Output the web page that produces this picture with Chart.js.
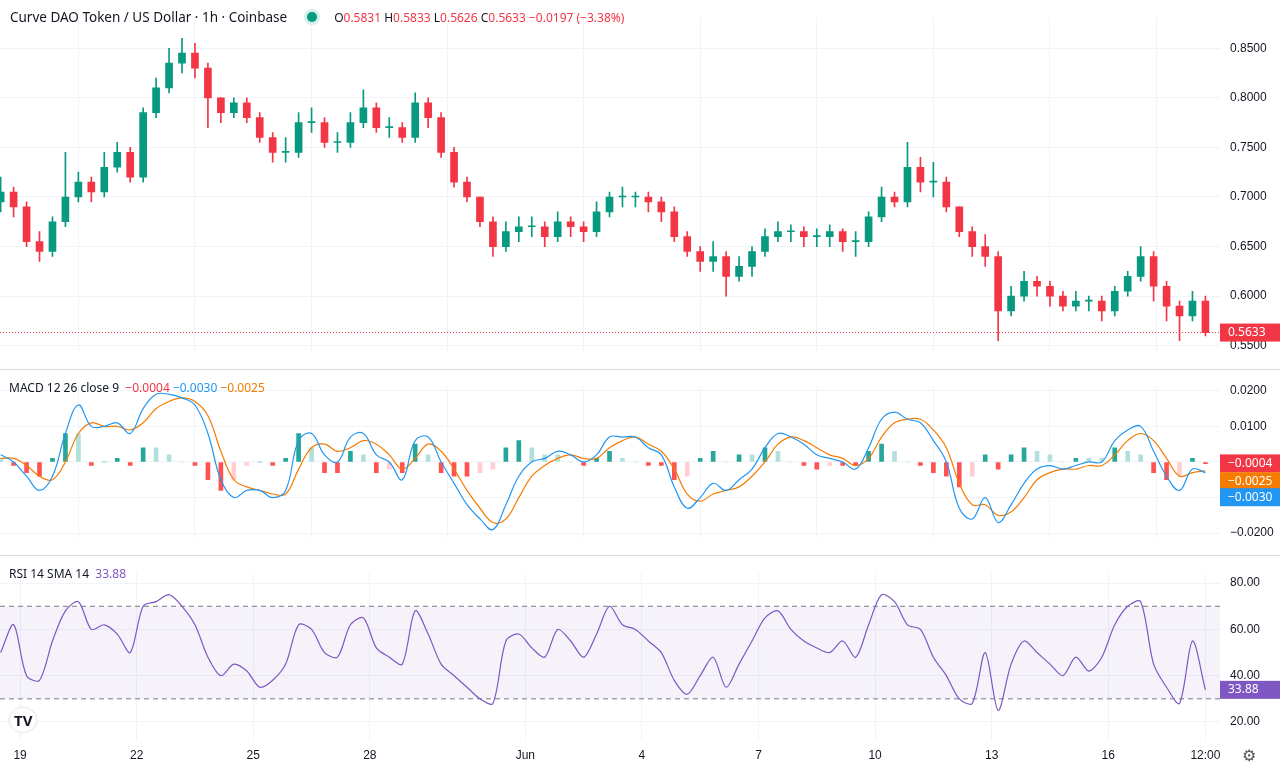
<!DOCTYPE html>
<html>
<head>
<meta charset="utf-8">
<script src="https://cdn.jsdelivr.net/npm/chart.js@4"></script>
<style>
  body { margin: 0; width: 1280px; height: 768px; background: #fff; overflow: hidden; font-family: "Noto Sans", sans-serif; position: relative; }
  canvas { position: absolute; left: 0; }
  .sep { position: absolute; left: 0; width: 1280px; height: 1px; background: #d6d8de; }
  .lbl { position: absolute; font-size: 12px; color: #131722; white-space: nowrap; }
  .r { color: #f23645; }
</style>
</head>
<body>
<canvas id="price" style="top:0px" width="1280" height="369"></canvas>
<canvas id="macd" style="top:370px" width="1280" height="185"></canvas>
<canvas id="rsi" style="top:556px" width="1280" height="212"></canvas>
<div class="sep" style="top:369px"></div>
<div class="sep" style="top:555px"></div>
<div class="lbl" style="left:10px;top:8px;font-size:13.5px">Curve DAO Token / US Dollar · 1h · Coinbase
  <span style="display:inline-block;width:10px;height:10px;border-radius:50%;background:#089981;margin:0 14px 0 16px;box-shadow:0 0 0 3px #d4efe9"></span>
  <span style="font-size:12px">O<span class="r">0.5831</span> H<span class="r">0.5833</span> L<span class="r">0.5626</span> C<span class="r">0.5633</span> <span class="r">−0.0197 (−3.38%)</span></span>
</div>
<div class="lbl" style="left:9px;top:379px">MACD 12 26 close 9 &nbsp;<span class="r">−0.0004</span> <span style="color:#2196f3">−0.0030</span> <span style="color:#f57c00">−0.0025</span></div>
<div class="lbl" style="left:9px;top:565px">RSI 14 SMA 14 &nbsp;<span style="color:#7e57c2">33.88</span></div>
<div class="lbl" style="left:10px;top:708px;font-size:15px;font-weight:bold;color:#131722;background:#fff;border-radius:50%;padding:2px 4px;box-shadow:0 0 3px #ccc">TV</div>
<div class="lbl" style="left:1242px;top:744px;font-size:16px;color:#555">⚙</div>
<script>
// 8h sampling, hours from May 19 00:00
const startHour = -12;
const stepHours = 8;
const closes = [0.705,0.69,0.655,0.645,0.675,0.70,0.715,0.705,0.73,0.745, 0.72,0.785,0.81,0.835,0.845,0.83,0.80,0.785,0.795,0.78, 0.76,0.745,0.745,0.775,0.775,0.755,0.755,0.775,0.79,0.77, 0.77,0.76,0.795,0.78,0.745,0.715,0.70,0.675,0.65,0.665, 0.67,0.67,0.66,0.675,0.67,0.665,0.685,0.70,0.70,0.70, 0.695,0.685,0.66,0.645,0.635,0.64,0.62,0.63,0.645,0.66, 0.665,0.665,0.66,0.66,0.665,0.655,0.655,0.68,0.70,0.695, 0.73,0.715,0.715,0.69,0.665,0.65,0.64,0.585,0.60,0.615, 0.61,0.60,0.59,0.595,0.595,0.585,0.605,0.62,0.64,0.61, 0.59,0.58,0.595,0.5633];
const firstOpen = 0.695;
const highs = [0.72,0.71,0.695,0.665,0.68,0.745,0.725,0.72,0.745,0.755, 0.75,0.79,0.82,0.85,0.86,0.855,0.835,0.80,0.80,0.80, 0.785,0.765,0.76,0.785,0.79,0.78,0.765,0.785,0.808,0.795, 0.78,0.775,0.805,0.80,0.785,0.75,0.72,0.70,0.68,0.675, 0.68,0.68,0.675,0.685,0.68,0.675,0.695,0.705,0.71,0.705, 0.705,0.70,0.69,0.665,0.65,0.655,0.645,0.64,0.65,0.668, 0.675,0.672,0.67,0.668,0.672,0.668,0.665,0.685,0.71,0.705, 0.755,0.74,0.735,0.72,0.69,0.67,0.662,0.645,0.61,0.625, 0.62,0.615,0.605,0.605,0.6,0.60,0.61,0.625,0.65,0.645, 0.615,0.595,0.605,0.6];
const lows = [0.685,0.68,0.65,0.635,0.64,0.67,0.695,0.695,0.70,0.725, 0.715,0.715,0.78,0.805,0.825,0.82,0.77,0.775,0.78,0.775, 0.755,0.735,0.735,0.74,0.765,0.75,0.745,0.75,0.77,0.765, 0.76,0.755,0.755,0.77,0.74,0.71,0.695,0.67,0.64,0.645, 0.655,0.66,0.65,0.655,0.66,0.655,0.66,0.68,0.69,0.69, 0.685,0.675,0.655,0.64,0.625,0.625,0.60,0.615,0.62,0.64, 0.655,0.655,0.65,0.65,0.65,0.645,0.64,0.65,0.675,0.69, 0.69,0.705,0.7,0.685,0.66,0.64,0.63,0.555,0.58,0.595, 0.60,0.59,0.585,0.585,0.585,0.575,0.58,0.60,0.615,0.595, 0.575,0.555,0.575,0.56];
const macdLine = [0.002,0.0,-0.004,-0.008,-0.004,0.008,0.016,0.010,0.010,0.011, 0.008,0.015,0.019,0.019,0.018,0.016,0.008,-0.005,-0.010,-0.008, -0.008,-0.010,-0.008,0.006,0.008,0.002,0.0,0.007,0.008,0.002, 0.0,-0.005,0.006,0.007,0.0,-0.006,-0.012,-0.016,-0.019,-0.012, -0.004,0.0,0.001,0.003,0.002,0.0,0.002,0.007,0.007,0.007, 0.004,0.002,-0.007,-0.013,-0.010,-0.006,-0.008,-0.005,-0.002,0.004, 0.008,0.007,0.005,0.002,0.001,0.0,-0.002,0.004,0.012,0.014, 0.012,0.011,0.006,0.0,-0.013,-0.016,-0.010,-0.017,-0.012,-0.006, -0.002,-0.001,-0.002,-0.001,0.0,0.0,0.006,0.009,0.010,0.003, -0.004,-0.008,-0.002,-0.003];
const signalLine = [0.001,0.001,-0.001,-0.004,-0.005,0.0,0.008,0.011,0.010,0.010, 0.009,0.011,0.015,0.017,0.018,0.017,0.013,0.003,-0.005,-0.007, -0.008,-0.009,-0.009,-0.002,0.004,0.005,0.003,0.004,0.006,0.005, 0.002,-0.002,0.001,0.005,0.003,-0.002,-0.008,-0.013,-0.017,-0.016, -0.010,-0.004,-0.001,0.001,0.002,0.001,0.001,0.004,0.006,0.007, 0.005,0.003,-0.002,-0.009,-0.011,-0.009,-0.008,-0.007,-0.004,0.0, 0.005,0.007,0.006,0.004,0.002,0.001,-0.001,0.001,0.007,0.011, 0.012,0.012,0.009,0.004,-0.006,-0.012,-0.012,-0.015,-0.014,-0.010, -0.005,-0.003,-0.002,-0.002,-0.001,-0.001,0.002,0.006,0.008,0.006, 0.001,-0.004,-0.003,-0.0025];
const rsiLine = [50,62,40,38,55,68,72,60,62,58, 50,70,72,75,70,62,48,40,45,42, 35,38,45,62,60,50,48,62,65,52, 48,45,68,58,45,40,35,30,28,55, 58,52,48,60,55,48,58,70,62,60, 55,50,38,32,40,48,35,45,55,65, 68,60,55,52,50,55,48,62,75,72, 62,60,48,40,30,28,50,25,45,55, 50,45,40,48,42,48,62,70,72,45, 35,28,55,33.88];
const tickHours = [0,72,144,216,312,384,456,528,600,672,732];
const tickNames = ['19','22','25','28','Jun','4','7','10','13','16','12:00'];

const hours = closes.map((_, i) => startHour + i * stepHours);
const opens = closes.map((c, i) => i === 0 ? firstOpen : closes[i - 1]);
const up = '#089981', down = '#f23645';
const candleColor = opens.map((o, i) => closes[i] >= o ? up : down);

const xMin = -12.4, xMax = 741;
const gridColor = '#f0f3fa';
function xScale(showTicks) {
  return {
    type: 'linear', min: xMin, max: xMax, offset: false,
    grid: { color: gridColor, drawTicks: false },
    border: { display: false },
    afterBuildTicks: s => { s.ticks = tickHours.map(v => ({ value: v })); },
    ticks: { display: showTicks, color: '#131722', font: { size: 12 }, padding: 8,
      callback: v => tickNames[tickHours.indexOf(v)] }
  };
}
function yScale(min, max, fmt) {
  return {
    position: 'right', min: min, max: max,
    grid: { color: gridColor, drawTicks: false },
    border: { display: false },
    afterFit: s => { s.width = 60; },
    ticks: { color: '#131722', font: { size: 12 }, padding: 10, callback: fmt }
  };
}
// value boxes on the right axis
const boxPlugin = {
  id: 'boxes',
  afterDraw(chart, args, opts) {
    const ctx = chart.ctx, y = chart.scales.y, a = chart.chartArea;
    (opts.items || []).forEach(it => {
      const py = y.getPixelForValue(it.value);
      if (it.line) {
        ctx.save(); ctx.strokeStyle = it.color; ctx.setLineDash([1, 2]); ctx.beginPath();
        ctx.moveTo(a.left, py); ctx.lineTo(a.right, py); ctx.stroke(); ctx.restore();
      }
      ctx.fillStyle = it.color;
      ctx.fillRect(a.right, py - 9, 60, 18);
      ctx.fillStyle = '#fff'; ctx.font = '12px "Noto Sans"'; ctx.textBaseline = 'middle';
      ctx.fillText(it.text, a.right + 8, py);
    });
  }
};
const baseOpts = () => ({
  responsive: false, animation: false,
  layout: { padding: 0 },
  plugins: { legend: { display: false }, tooltip: { enabled: false } }
});

// Price
const priceOpts = baseOpts();
priceOpts.scales = { x: xScale(false), y: yScale(0.5439, 0.8813, v => v.toFixed(4)) };
priceOpts.scales.y.afterBuildTicks = s => { s.ticks = [0.55,0.6,0.65,0.7,0.75,0.8,0.85].map(v => ({ value: v })); };
priceOpts.plugins.boxes = { items: [{ value: 0.5633, text: '0.5633', color: down, line: true }] };
new Chart(document.getElementById('price'), {
  type: 'bar',
  data: { datasets: [
    { data: hours.map((h, i) => ({ x: h, y: [lows[i], highs[i]] })), backgroundColor: candleColor, barThickness: 1, grouped: false },
    { data: hours.map((h, i) => ({ x: h, y: [opens[i], closes[i] + (closes[i] === opens[i] ? 0.001 : 0)] })), backgroundColor: candleColor, barThickness: 7, grouped: false }
  ] },
  options: priceOpts, plugins: [boxPlugin]
});

// MACD
const hist = macdLine.map((m, i) => m - signalLine[i]);
const histColor = hist.map((v, i) => {
  const rising = i > 0 && v > hist[i - 1];
  if (v >= 0) return rising ? '#26a69a' : '#b2dfdb';
  return rising ? '#ffcdd2' : '#ff5252';
});
const macdOpts = baseOpts();
macdOpts.scales = { x: xScale(false), y: yScale(-0.0213, 0.021, v => v.toFixed(4)) };
macdOpts.scales.y.afterBuildTicks = s => { s.ticks = [-0.02,-0.01,0,0.01,0.02].map(v => ({ value: v })); };
macdOpts.scales.y.ticks.callback = v => (v === 0 || v === -0.01) ? '' : v.toFixed(4).replace('-', '−');
macdOpts.plugins.boxes = { items: [
  { value: -0.0004, text: '−0.0004', color: '#f23645' },
  { value: -0.0054, text: '−0.0025', color: '#f57c00' },
  { value: -0.0099, text: '−0.0030', color: '#2196f3' }
] };
new Chart(document.getElementById('macd'), {
  data: { datasets: [
    { type: 'bar', data: hours.map((h, i) => ({ x: h, y: hist[i] })), backgroundColor: histColor, barThickness: 4, order: 3 },
    { type: 'line', data: hours.map((h, i) => ({ x: h, y: macdLine[i] })), borderColor: '#2196f3', borderWidth: 1.2, pointRadius: 0, tension: 0.4, order: 1 },
    { type: 'line', data: hours.map((h, i) => ({ x: h, y: signalLine[i] })), borderColor: '#f57c00', borderWidth: 1.2, pointRadius: 0, tension: 0.4, order: 2 }
  ] },
  options: macdOpts, plugins: [boxPlugin]
});

// RSI
const bandPlugin = {
  id: 'band',
  beforeDatasetsDraw(chart) {
    const ctx = chart.ctx, y = chart.scales.y, a = chart.chartArea;
    const y70 = y.getPixelForValue(70), y30 = y.getPixelForValue(30);
    ctx.save();
    ctx.fillStyle = 'rgba(126,87,194,0.08)';
    ctx.fillRect(a.left, y70, a.right - a.left, y30 - y70);
    ctx.strokeStyle = '#787b86'; ctx.setLineDash([5, 4]); ctx.lineWidth = 1;
    [y70, y30].forEach(py => { ctx.beginPath(); ctx.moveTo(a.left, py); ctx.lineTo(a.right, py); ctx.stroke(); });
    ctx.restore();
  }
};
const rsiOpts = baseOpts();
rsiOpts.scales = { x: xScale(true), y: yScale(12.2, 84.3, v => v.toFixed(2)) };
rsiOpts.scales.y.afterBuildTicks = s => { s.ticks = [20,40,60,80].map(v => ({ value: v })); };
rsiOpts.scales.x.afterFit = s => { s.height = 28; };
rsiOpts.plugins.boxes = { items: [{ value: 33.88, text: '33.88', color: '#7e57c2' }] };
new Chart(document.getElementById('rsi'), {
  type: 'line',
  data: { datasets: [
    { data: hours.map((h, i) => ({ x: h, y: rsiLine[i] })), borderColor: '#7e57c2', borderWidth: 1.2, pointRadius: 0, tension: 0.3 }
  ] },
  options: rsiOpts, plugins: [bandPlugin, boxPlugin]
});
</script>
</body>
</html>
